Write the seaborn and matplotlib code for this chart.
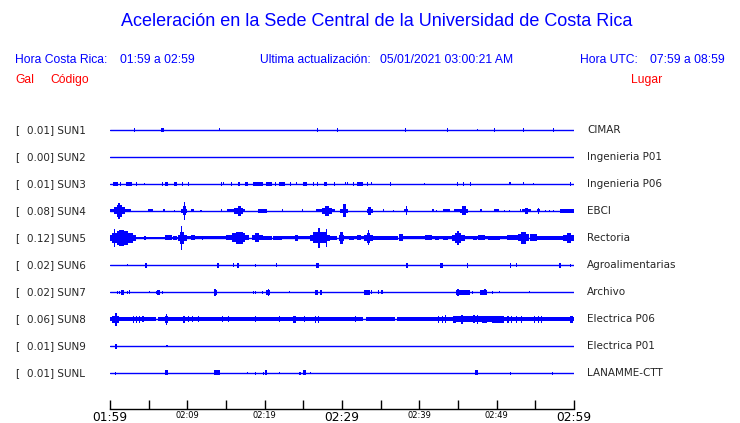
import matplotlib
matplotlib.use("Agg")
import matplotlib.pyplot as plt
import seaborn as sns
import pandas as pd

# station data: code, peak value in gal, location
codes = ["SUN1", "SUN2", "SUN3", "SUN4", "SUN5", "SUN6", "SUN7", "SUN8", "SUN9", "SUNL"]
peaks = ["0.01", "0.00", "0.01", "0.08", "0.12", "0.02", "0.02", "0.06", "0.01", "0.01"]
places = ["CIMAR", "Ingenieria P01", "Ingenieria P06", "EBCI", "Rectoria",
          "Agroalimentarias", "Archivo", "Electrica P06", "Electrica P01", "LANAMME-CTT"]

# bursts: (start minute, end minute, half amplitude in px)
sun1 = [(3.1, 3.1, 2), (6.6, 7.0, 2), (14.1, 14.1, 1.5), (26.8, 26.8, 2), (29.4, 29.4, 2),
        (38.1, 38.1, 2), (43.6, 43.6, 2), (47.4, 47.4, 1.2), (49.6, 49.6, 2), (53.4, 53.4, 2),
        (57.3, 57.3, 2)]
sun2 = []
sun3 = [(0.4, 1.0, 2), (1.3, 1.3, 2), (2.1, 2.9, 2), (3.3, 3.3, 2), (4.4, 4.4, 1.2), (6.7, 6.7, 2),
        (7.1, 7.5, 2), (8.3, 8.7, 2), (9.3, 9.3, 2), (10.1, 10.1, 2), (14.4, 14.4, 2),
        (14.6, 14.6, 1.5), (15.7, 15.7, 2), (16.5, 16.8, 2), (17.4, 17.8, 2), (18.5, 19.8, 2),
        (20.2, 20.9, 2), (21.3, 21.3, 2), (21.9, 22.6, 2), (23.3, 23.3, 2), (24.1, 24.1, 1.5),
        (24.9, 25.5, 2), (26.2, 26.2, 2), (26.8, 26.8, 2), (27.7, 28.1, 2), (29.0, 29.0, 2),
        (30.4, 30.4, 1.5), (30.7, 30.7, 1.5), (31.4, 31.4, 2), (31.9, 32.7, 2), (33.2, 33.2, 2),
        (33.7, 33.7, 1.5), (36.2, 36.2, 2), (40.6, 40.6, 1.2), (44.9, 44.9, 2), (45.6, 45.6, 2),
        (46.5, 46.5, 2), (51.6, 51.9, 1.5), (53.4, 53.4, 1.5), (54.7, 54.7, 1.2), (59.5, 59.5, 2)]
sun4 = [(0.0, 2.7, 1.5), (0.5, 1.9, 3.5), (0.9, 1.5, 6), (1.0, 1.3, 8.3), (4.9, 5.5, 1.5),
        (6.8, 7.1, 1.5), (8.3, 8.3, 1), (9.2, 10.0, 2), (9.5, 9.8, 4.5), (9.6, 9.7, 9),
        (10.5, 10.9, 1.5), (11.7, 11.7, 1), (14.4, 14.4, 1.5), (15.1, 17.5, 1.5), (16.0, 17.2, 3),
        (16.6, 17.0, 5), (19.2, 20.3, 2), (22.2, 22.2, 1.5), (24.8, 24.8, 1.5), (26.6, 29.1, 1.5),
        (27.4, 28.7, 3), (27.8, 28.3, 5), (29.7, 30.8, 2), (30.1, 30.5, 6.5), (33.2, 34.0, 2),
        (33.4, 33.8, 3.7), (35.3, 35.3, 1.5), (36.6, 36.6, 1), (38.0, 38.5, 1.5), (38.3, 38.4, 4.5),
        (41.7, 41.7, 1.5), (42.2, 42.2, 1), (43.1, 44.0, 1.5), (44.5, 45.2, 1.5), (45.3, 46.3, 2),
        (45.5, 46.0, 4.5), (47.9, 47.9, 1.5), (49.7, 50.3, 1.5), (50.9, 50.9, 1), (51.6, 51.6, 1),
        (53.0, 53.0, 1.5), (53.3, 54.4, 1.5), (53.6, 54.1, 3), (55.2, 55.6, 1.5), (55.3, 55.4, 3),
        (56.3, 56.3, 1), (56.8, 56.8, 1), (57.3, 57.3, 1), (58.2, 60.0, 2)]
sun5 = [(0.0, 3.3, 3), (0.3, 3.0, 5), (0.9, 2.3, 7), (1.2, 1.8, 8.3), (0.5, 0.7, 9),
        (3.3, 8.8, 1.2), (4.4, 4.7, 2), (7.1, 8.0, 2.5), (8.2, 8.6, 2),
        (8.8, 10.0, 3), (9.1, 9.6, 6), (9.2, 9.35, 12),
        (10.0, 12.3, 1.5), (10.5, 11.0, 2.5), (11.9, 12.0, 2), (12.3, 15.3, 1.5),
        (15.0, 18.0, 2.5), (15.8, 17.5, 4.5), (16.3, 17.2, 6),
        (18.3, 19.8, 2.5), (18.7, 19.3, 4.5),
        (19.8, 21.0, 2), (21.1, 22.2, 2), (22.2, 23.9, 1.5), (23.9, 24.3, 3), (24.3, 26.0, 1.5),
        (25.8, 28.5, 3), (26.3, 28.0, 5.5), (26.9, 27.2, 10), (27.9, 28.1, 9),
        (28.5, 29.4, 2), (29.6, 30.3, 3), (29.8, 30.1, 6),
        (30.3, 32.9, 1.5), (30.9, 31.5, 2), (32.0, 32.4, 2.5),
        (32.9, 34.0, 3), (33.2, 33.6, 5), (33.3, 33.5, 7.5),
        (34.0, 37.3, 2), (37.4, 37.9, 3.5), (37.9, 40.7, 1.5), (40.7, 41.6, 2.5), (41.6, 44.2, 1.5),
        (42.0, 42.6, 2), (43.0, 43.7, 2),
        (44.2, 45.9, 3), (44.6, 45.4, 5), (44.9, 45.1, 7),
        (45.9, 47.6, 1.5), (47.0, 47.5, 2), (47.6, 48.5, 2.5), (48.5, 51.3, 1.5), (48.9, 50.4, 2),
        (51.3, 53.0, 2.5), (52.7, 54.2, 3.5), (53.2, 53.8, 5.8), (54.3, 55.2, 3.5), (55.2, 58.6, 2),
        (58.6, 60.0, 3), (59.1, 59.6, 4.7)]
sun6 = [(2.2, 2.2, 1), (4.5, 4.75, 2.5), (13.9, 14.1, 2.5), (15.9, 15.9, 2), (16.4, 16.7, 2.5),
        (18.8, 18.8, 1.5), (21.5, 21.5, 2), (26.7, 27.0, 2.5), (38.3, 38.5, 2.5), (42.7, 43.0, 2.5),
        (46.1, 46.1, 2.5), (51.7, 51.9, 2.5), (52.5, 52.5, 2), (58.0, 58.3, 2.5), (59.5, 59.5, 1.5)]
sun7 = [(0.9, 0.9, 1.5), (1.2, 1.2, 1.5), (1.4, 1.8, 2.5), (2.2, 2.2, 1.5), (2.5, 2.5, 2),
        (5.0, 5.0, 1), (5.9, 5.9, 1.5), (6.1, 6.5, 2.5), (6.7, 6.7, 1.5), (13.4, 13.8, 2.5),
        (13.5, 13.7, 3.5), (18.5, 18.5, 1.5), (18.75, 18.75, 1.5), (19.6, 19.6, 1.5),
        (20.2, 20.7, 2.5), (20.4, 20.6, 3.5), (23.2, 23.2, 1), (26.5, 26.9, 2.5), (27.2, 27.4, 2.5),
        (32.8, 33.6, 2.5), (33.8, 33.8, 2), (34.7, 34.8, 2), (35.1, 35.1, 2), (44.8, 46.6, 2.5),
        (44.9, 45.1, 3.5), (46.8, 46.8, 1.5), (47.8, 48.7, 2.5), (48.4, 48.6, 3), (49.4, 49.4, 1.5),
        (50.3, 50.3, 1), (54.2, 54.2, 1)]
sun8 = [(0.0, 6.0, 2.2), (0.2, 1.1, 3.5), (0.6, 0.9, 6.5), (3.0, 3.1, 3.5), (3.3, 3.4, 3.5),
        (3.7, 3.8, 3.5), (4.1, 4.1, 3), (4.3, 4.3, 3),
        (6.2, 32.7, 2.2), (7.1, 7.5, 3.5), (7.25, 7.4, 5.5), (9.5, 9.5, 3.5), (10.1, 10.1, 3),
        (10.6, 10.6, 3), (11.4, 11.4, 3), (14.5, 14.5, 3), (15.3, 15.3, 3), (18.7, 18.7, 3),
        (21.9, 21.9, 3), (23.7, 24.0, 3.5), (25.1, 25.1, 3), (26.5, 26.6, 3.5), (26.9, 27.0, 3.5),
        (31.7, 31.7, 3),
        (33.1, 36.9, 2.2), (37.1, 60.0, 2.2), (42.4, 42.4, 3.5), (42.9, 42.9, 3.5), (43.3, 43.3, 4),
        (44.4, 44.8, 3.5), (44.7, 46.6, 3), (45.4, 45.6, 4.5), (46.6, 50.9, 2.8), (47.0, 47.1, 4),
        (47.4, 47.5, 4.5), (48.1, 48.7, 3.5), (49.4, 50.9, 3.5), (51.4, 51.4, 3.5), (51.9, 51.9, 3.5),
        (52.5, 52.5, 3.5), (53.2, 53.2, 3.5), (54.8, 54.8, 3.5), (55.3, 55.3, 3.5), (55.7, 55.7, 3.5),
        (59.5, 59.9, 3.5)]
sun9 = [(0.65, 0.9, 2.5), (7.3, 7.3, 1.2)]
sunl = [(0.7, 0.7, 1.5), (7.1, 7.5, 2.5), (13.4, 14.2, 2.5), (17.7, 17.7, 1), (18.8, 18.8, 1.5),
        (19.8, 19.8, 1.5), (20.0, 20.3, 2.5), (21.9, 21.9, 1), (24.5, 24.5, 1.5), (24.9, 25.3, 2.5),
        (25.9, 25.9, 1), (47.2, 47.6, 2.5), (51.7, 51.7, 1.5), (57.1, 57.3, 1.5)]
bursts = [sun1, sun2, sun3, sun4, sun5, sun6, sun7, sun8, sun9, sunl]

tick_minutes = list(range(0, 61, 5))
tick_labels = ["01:59", "", "02:09", "", "02:19", "", "02:29", "", "02:39", "", "02:49", "", "02:59"]
big_labels = ["01:59", "02:29", "02:59"]

W, H = 740, 423
SPACING = 27  # px between traces
BLUE = "#0000ff"


def px(x, y):  # pixel position to figure fraction
    return x / W, 1 - y / H


def main():
    sns.set_theme(style="white")
    plt.rcParams["font.family"] = ["DejaVu Sans"]
    fig = plt.figure(figsize=(W / 100, H / 100), dpi=100)
    fig.patch.set_facecolor("white")

    # axes spans the trace area down to the time axis line (y=409 px)
    top_px, bot_px, first_px = 117, 409, 130
    ax = fig.add_axes([110 / W, (H - bot_px) / H, 464 / W, (bot_px - top_px) / H])
    ax.set_facecolor("white")

    base = pd.DataFrame([{"t": t, "y": i, "station": c}
                         for i, c in enumerate(codes) for t in (0, 60)])
    sns.lineplot(data=base, x="t", y="y", units="station", estimator=None,
                 color=BLUE, lw=1.0, ax=ax, legend=False)

    seg = pd.DataFrame([{"y": i, "t0": a, "t1": b, "amp": amp / SPACING}
                        for i, lst in enumerate(bursts) for a, b, amp in lst])
    seg["w"] = (seg["t1"] - seg["t0"]).clip(lower=0.14)
    ax.bar(seg["t0"], 2 * seg["amp"], width=seg["w"], bottom=seg["y"] - seg["amp"],
           align="edge", color=BLUE, linewidth=0)

    ax.set_xlim(0, 60)
    ax.set_ylim((bot_px - first_px) / SPACING, (top_px - first_px) / SPACING)
    ax.set_xlabel("")
    ax.set_ylabel("")
    ax.set_yticks([])
    for s in ["top", "left", "right"]:
        ax.spines[s].set_visible(False)
    ax.spines["bottom"].set_color("black")
    ax.spines["bottom"].set_linewidth(1.0)
    ax.set_xticks(tick_minutes)
    ax.set_xticklabels(tick_labels)
    ax.tick_params(axis="x", direction="in", length=6.5, width=1.0, color="black",
                   bottom=True, pad=1.5, labelcolor="black")
    for lab in ax.get_xticklabels():
        lab.set_fontsize(8.8 if lab.get_text() in big_labels else 6)

    # station labels
    for i, (c, p, place) in enumerate(zip(codes, peaks, places)):
        y = first_px + SPACING * i
        fig.text(*px(15, y), "[", fontsize=7.5, va="center", ha="left")
        fig.text(*px(27.3, y), f"{p}] {c}", fontsize=7.5, va="center", ha="left")
        fig.text(*px(587, y), place, fontsize=7.5, va="center", ha="left")

    # header
    hf = ["Liberation Sans", "DejaVu Sans"]
    hs = 8.7
    fig.text(*px(376.5, 22), "Aceleración en la Sede Central de la Universidad de Costa Rica",
             fontsize=13, color=BLUE, ha="center", va="center", family=hf)
    fig.text(*px(15, 60), "Hora Costa Rica:", fontsize=hs, color=BLUE, va="center", family=hf)
    fig.text(*px(120, 60), "01:59 a 02:59", fontsize=hs, color=BLUE, va="center", family=hf)
    fig.text(*px(260, 60), "Ultima actualización:", fontsize=hs, color=BLUE, va="center", family=hf)
    fig.text(*px(380, 60), "05/01/2021 03:00:21 AM", fontsize=hs, color=BLUE, va="center", family=hf)
    fig.text(*px(580, 60), "Hora UTC:", fontsize=hs, color=BLUE, va="center", family=hf)
    fig.text(*px(725, 60), "07:59 a 08:59", fontsize=hs, color=BLUE, va="center", ha="right", family=hf)
    fig.text(*px(15, 80), "Gal", fontsize=hs, color="red", va="center", family=hf)
    fig.text(*px(50, 80), "Código", fontsize=hs, color="red", va="center", family=hf)
    fig.text(*px(662, 80), "Lugar", fontsize=hs, color="red", va="center", ha="right", family=hf)

    fig.savefig("out.png", dpi=100, facecolor="white")


if __name__ == "__main__":
    main()
